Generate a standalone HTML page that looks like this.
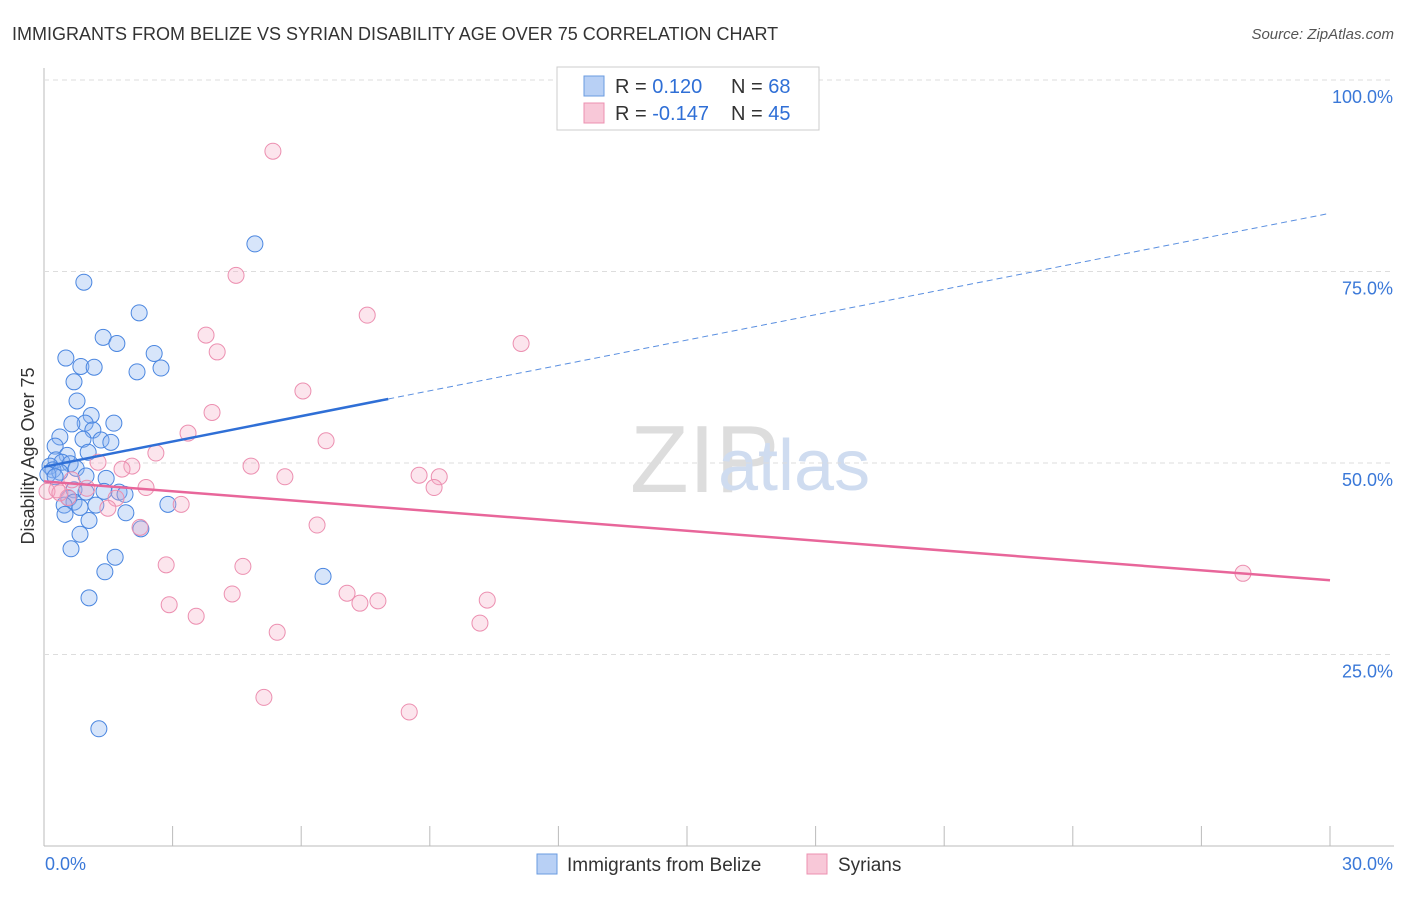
<!DOCTYPE html>
<html><head><meta charset="utf-8"><style>
body{margin:0;background:#fff;font-family:"Liberation Sans",sans-serif}
svg text{font-family:"Liberation Sans",sans-serif}
</style></head><body>
<svg width="1406" height="892" id="c">
<text x="12" y="40" font-size="18" fill="#333">IMMIGRANTS FROM BELIZE VS SYRIAN DISABILITY AGE OVER 75 CORRELATION CHART</text>
<text x="1394" y="39" font-size="15" fill="#555" font-style="italic" text-anchor="end">Source: ZipAtlas.com</text>
<text x="630" y="492" font-size="96" fill="#ddd" font-family="Liberation Serif">ZIP</text>
<text x="718" y="490" font-size="72" fill="#cfdcf0">atlas</text>
<g id="grid"></g><g id="marks"></g>
<text transform="translate(34,456) rotate(-90)" font-size="18" fill="#333" text-anchor="middle">Disability Age Over 75</text>
<g>
<rect x="557" y="67" width="262" height="63" fill="#fff" stroke="#ccc"/>
<rect x="584" y="76" width="20" height="20" fill="#b8d0f5" stroke="#6a9be0"/>
<rect x="584" y="103" width="20" height="20" fill="#f8c8d8" stroke="#ec90b0"/>
<text x="615" y="93" font-size="20" fill="#333">R = <tspan fill="#2f6fd6"> 0.120</tspan><tspan x="731">N = </tspan><tspan fill="#2f6fd6">68</tspan></text>
<text x="615" y="120" font-size="20" fill="#333">R = <tspan fill="#2f6fd6">-0.147</tspan><tspan x="731">N = </tspan><tspan fill="#2f6fd6">45</tspan></text>
</g>
<g>
<rect x="537" y="854" width="20" height="20" fill="#b8d0f5" stroke="#6a9be0"/>
<text x="567" y="871" font-size="19" fill="#333">Immigrants from Belize</text>
<rect x="807" y="854" width="20" height="20" fill="#f8c8d8" stroke="#ec90b0"/>
<text x="838" y="871" font-size="19" fill="#333">Syrians</text>
</g>
</svg>
<script>
const yTicks=[25,50,75,100];
const xTickLabels=["0.0%","30.0%"];
const blueX=[4.92,0.93,2.22,1.38,1.70,0.51,2.57,0.86,1.17,2.73,2.17,0.70,0.77,1.10,0.96,0.65,1.63,1.14,0.37,0.91,1.33,1.56,0.26,1.03,0.54,0.28,0.42,0.61,0.14,0.21,0.37,0.09,0.26,0.75,1.45,0.98,0.70,0.98,1.40,1.75,1.89,0.58,0.70,0.47,0.84,1.21,2.89,0.49,1.05,1.91,0.84,2.26,0.63,1.66,1.42,6.51,1.05,1.28];
const blueY=[78.6,73.6,69.6,66.4,65.6,63.7,64.3,62.6,62.5,62.4,61.9,60.6,58.1,56.2,55.2,55.1,55.2,54.3,53.4,53.1,53.0,52.7,52.2,51.4,51.0,50.4,50.1,49.9,49.6,49.1,48.8,48.5,48.2,49.3,48.0,48.3,46.5,46.2,46.3,46.2,45.9,45.4,44.9,44.5,44.2,44.5,44.6,43.3,42.5,43.5,40.7,41.4,38.8,37.7,35.8,35.2,32.4,15.3];
const pinkX=[5.34,4.48,7.54,11.13,3.78,4.04,6.04,3.92,3.36,6.58,2.61,4.83,2.05,1.82,1.26,5.62,8.75,9.22,9.10,2.38,0.65,0.30,1.00,0.56,1.68,3.20,1.49,2.24,6.37,2.85,4.64,2.92,4.39,7.07,7.37,7.79,10.34,3.55,10.17,5.44,5.13,8.52,27.97,0.07,0.37];
const pinkY=[90.7,74.5,69.3,65.6,66.7,64.5,59.4,56.6,53.9,52.9,51.3,49.6,49.6,49.2,50.1,48.2,48.4,48.2,46.8,46.8,47.8,46.5,46.7,45.5,45.4,44.6,44.1,41.6,41.9,36.7,36.5,31.5,32.9,33.0,31.7,32.0,32.1,30.0,29.1,27.9,19.4,17.5,35.6,46.3,46.1];
const blueTrend=[49.5,82.6]; const blueSolidEnd=8.03;
const pinkTrend=[47.6,34.7];
const X=v=>44+v/30*1286, Y=v=>846-v/100*766;
const NS="http://www.w3.org/2000/svg";
function mk(t,a,p){const e=document.createElementNS(NS,t);for(const k in a)e.setAttribute(k,a[k]);p.appendChild(e);return e;}
const g=document.getElementById('grid'), m=document.getElementById('marks');
let ax=mk('line',{x1:44,y1:68,x2:44,y2:846,stroke:'#bbb'},g);


let bx=mk('line',{x1:44,y1:846,x2:1394,y2:846,stroke:'#bbb'},g);


yTicks.forEach(t=>{
 let l=mk('line',{x1:44,y1:Y(t),x2:1394,y2:Y(t),stroke:'#ddd','stroke-dasharray':'5,4'},g);
 
 
 let tx=mk('text',{x:1393,y:Y(t)+23,'font-size':18,fill:'#3a78d8','text-anchor':'end'},g);
 tx.textContent=t.toFixed(1)+'%';
 
 
});
for(let i=0;i<=10;i++){
 let l=mk('line',{x1:X(i*3),y1:826,x2:X(i*3),y2:846,stroke:'#bbb'},g);
 
 
}
[[0,'start',45],[30,'end',1393]].forEach((d,i)=>{
 let tx=mk('text',{x:d[2],y:870,'font-size':18,fill:'#3a78d8','text-anchor':d[1]},g);
 tx.textContent=xTickLabels[i];
 
 
});
blueX.forEach((x,i)=>{
 let c=mk('circle',{cx:X(x),cy:Y(blueY[i]),r:8,fill:'rgba(140,180,240,0.35)',stroke:'#4a86e0','stroke-width':1},m);
 
 
});
pinkX.forEach((x,i)=>{
 let c=mk('circle',{cx:X(x),cy:Y(pinkY[i]),r:8,fill:'rgba(245,170,195,0.3)',stroke:'#ec8fb0','stroke-width':1},m);
 
 
});
const by=x=>blueTrend[0]+(blueTrend[1]-blueTrend[0])*x/30;
let t1=mk('line',{x1:X(0),y1:Y(by(0)),x2:X(blueSolidEnd),y2:Y(by(blueSolidEnd)),stroke:'#2f6fd6','stroke-width':2.5},m);


let t2=mk('line',{x1:X(blueSolidEnd),y1:Y(by(blueSolidEnd)),x2:X(30),y2:Y(by(30)),stroke:'#5a8fe0','stroke-width':1,'stroke-dasharray':'6,4'},m);


let t3=mk('line',{x1:X(0),y1:Y(pinkTrend[0]),x2:X(30),y2:Y(pinkTrend[1]),stroke:'#e8669a','stroke-width':2.5},m);


</script>
</body></html>
